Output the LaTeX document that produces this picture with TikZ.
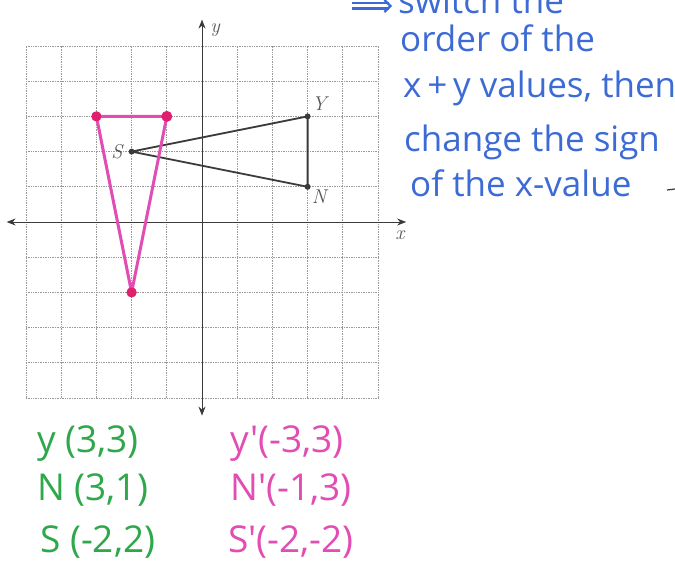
\documentclass[tikz,border=0pt]{standalone}
\usepackage{fontspec}
\newfontfamily\hand{Open Sans}
\usetikzlibrary{arrows.meta,positioning}
\definecolor{inkblue}{HTML}{3D6BD6}
\definecolor{inkgreen}{HTML}{2EA84A}
\definecolor{inkpink}{HTML}{E24DB4}
\definecolor{dotpink}{HTML}{E0206E}
\definecolor{pencil}{HTML}{3A3A3A}
\tikzset{
  gridline/.style={draw=gray!80, densely dotted, line width=0.7pt},
  axisline/.style={draw=pencil, line width=0.9pt, {Stealth[length=9pt,width=7pt]}-{Stealth[length=9pt,width=7pt]}},
  pt/.style={circle, fill=pencil, inner sep=0pt, minimum size=6pt},
  ppt/.style={circle, fill=dotpink, inner sep=0pt, minimum size=10pt},
  tri/.style={draw=pencil, line width=1.8pt},
  ptri/.style={draw=inkpink, line width=3pt},
  lbl/.style={font=\itshape\fontsize{20}{20}\selectfont, text=pencil!85, inner sep=1pt},
  note/.style={font=\hand\fontsize{35}{35}\selectfont, text=inkblue, anchor=base west, inner sep=0pt},
  gnote/.style={font=\hand\fontsize{37}{37}\selectfont, text=inkgreen, anchor=base west, inner sep=0pt},
  pnote/.style={font=\hand\fontsize{37}{37}\selectfont, text=inkpink, anchor=base west, inner sep=0pt}
}
\begin{document}
\begin{tikzpicture}[x=1pt,y=-1pt]
\useasboundingbox (0,0) rectangle (675,561);
\fill[white] (0,0) rectangle (675,561);
\begin{scope}[shift={(202,222)}, x=35.2pt, y=35.2pt]
  \draw[gridline, step=1] (-5,-5) grid (5,5);
  \coordinate (xl) at (-5.55,0);
  \coordinate (xr) at (5.8,0);
  \coordinate (yt) at (0,5.75);
  \coordinate (yb) at (0,-5.5);
  \draw[axisline] (xl) -- (xr);
  \draw[axisline] (yb) -- (yt);
  \node[lbl] (xlab) at (5.62,-0.38) {x};
  \node[lbl] (ylab) at (0.37,5.45) {y};
  % original triangle
  \node[pt] (S) at (-2,2) {};
  \node[pt] (Y) at (3,3) {};
  \node[pt] (N) at (3,1) {};
  \draw[tri, line join=round] (S.center) -- (Y.center) -- (N.center) -- cycle;
  \node[lbl] (Slab) at (-2.42,2.0) {S};
  \node[lbl] (Ylab) at (3.33,3.35) {Y};
  \node[lbl] (Nlab) at (3.33,0.72) {N};
  % rotated triangle
  \node[ppt] (Y2) at (-3,3) {};
  \node[ppt] (N2) at (-1,3) {};
  \node[ppt] (S2) at (-2,-2) {};
  \draw[ptri, line join=round] (Y2.center) -- (N2.center) -- (S2.center) -- cycle;
  \node[ppt] at (Y2) {};
  \node[ppt, minimum size=11pt] at (N2) {};
  \node[ppt] at (S2) {};
\end{scope}
% blue notes
\node[note] (n1) at (398,14) {switch the};
\node[note] (n2) at (400,52) {order of the};
\node[note] (n3) at (403,98) {x\,+\,y values, then};
\node[note] (n4) at (404,152) {change the sign};
\node[note] (n5) at (410,197) {of the x-value};
\coordinate (arA) at (352,6);
\coordinate (arB) at (392,6);
\draw[draw=inkblue, line width=2.2pt, double distance=3pt, -{Straight Barb[length=6pt,width=12pt]}] (arA) -- (arB);
\coordinate (tA) at (667,190);
\coordinate (tB) at (675,189);
\draw[draw=pencil, line width=1.2pt] (tA) -- (tB);
% green coordinates
\node[gnote] (g1) at (37,452) {y (3,3)};
\node[gnote] (g2) at (37,500) {N (3,1)};
\node[gnote] (g3) at (40,552) {S (-2,2)};
% pink coordinates
\node[pnote] (p1) at (230,452) {y'(-3,3)};
\node[pnote] (p2) at (230,500) {N'(-1,3)};
\node[pnote] (p3) at (228,552) {S'(-2,-2)};
\end{tikzpicture}
\end{document}
